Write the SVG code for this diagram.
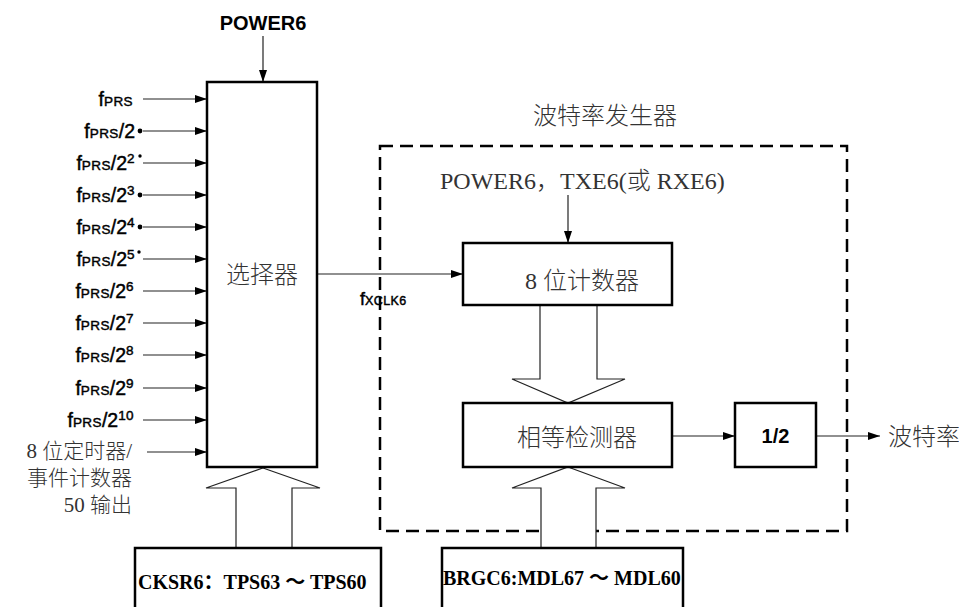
<svg xmlns="http://www.w3.org/2000/svg" width="959" height="607" viewBox="0 0 959 607">
<style>
.box{fill:#fff;stroke:#000;stroke-width:2.5}
.ln{fill:none;stroke:#222;stroke-width:1.2}
.hol{fill:#fff;stroke:#222;stroke-width:1.2}
.dash{fill:none;stroke:#000;stroke-width:2.5;stroke-dasharray:13 7}
.sf{font-family:"Liberation Sans",Arial,sans-serif;fill:#000}
.lab{font-family:"Liberation Sans",Arial,sans-serif;font-size:19.5px;fill:#000;stroke:#000;stroke-width:0.45}
.sm{font-size:13.5px;letter-spacing:0.4px}
.cn{font-family:"Liberation Serif","Noto Sans CJK SC",serif;fill:#333;font-weight:300}
.bs{font-family:"Liberation Serif","Noto Sans CJK SC",serif;font-weight:bold;font-size:20px;fill:#000}
</style>
<defs>
<marker id="ah" markerUnits="userSpaceOnUse" markerWidth="12" markerHeight="8" refX="12" refY="4" orient="auto">
<path d="M0,0 L12,4 L0,8 z" fill="#000"/>
</marker>
</defs>

<g id="baud-generator-frame">
<rect class="dash" x="380" y="146" width="467" height="385"/>
<text class="cn" x="533" y="124" font-size="24">波特率发生器</text>
</g>

<g id="connectors">
<line class="ln" x1="263" y1="36" x2="263" y2="82" marker-end="url(#ah)"/>
<line class="ln" x1="143" y1="99" x2="207" y2="99" marker-end="url(#ah)"/>
<line class="ln" x1="143" y1="131" x2="207" y2="131" marker-end="url(#ah)"/>
<line class="ln" x1="143" y1="163" x2="207" y2="163" marker-end="url(#ah)"/>
<line class="ln" x1="143" y1="195" x2="207" y2="195" marker-end="url(#ah)"/>
<line class="ln" x1="143" y1="227" x2="207" y2="227" marker-end="url(#ah)"/>
<line class="ln" x1="143" y1="259" x2="207" y2="259" marker-end="url(#ah)"/>
<line class="ln" x1="143" y1="291" x2="207" y2="291" marker-end="url(#ah)"/>
<line class="ln" x1="143" y1="323" x2="207" y2="323" marker-end="url(#ah)"/>
<line class="ln" x1="143" y1="355" x2="207" y2="355" marker-end="url(#ah)"/>
<line class="ln" x1="143" y1="388" x2="207" y2="388" marker-end="url(#ah)"/>
<line class="ln" x1="143" y1="420" x2="207" y2="420" marker-end="url(#ah)"/>
<line class="ln" x1="147" y1="452" x2="207" y2="452" marker-end="url(#ah)"/>
<line class="ln" x1="317" y1="274" x2="463" y2="274" marker-end="url(#ah)"/>
<line class="ln" x1="568" y1="195" x2="568" y2="243" marker-end="url(#ah)"/>
<line class="ln" x1="672" y1="436" x2="735" y2="436" marker-end="url(#ah)"/>
<line class="ln" x1="816" y1="436" x2="880" y2="436" marker-end="url(#ah)"/>
<polygon class="hol" points="263,468 320,488 292,488 292,548 236,548 236,488 206,488"/>
<polygon class="hol" points="540,305 597,305 597,379 625,379 568,403 512,379 540,379"/>
<polygon class="hol" points="568,467 625,488 596,488 596,548 541,548 541,488 512,488"/>
<circle cx="140" cy="131" r="2.4" fill="#000"/>
<circle cx="140" cy="156" r="1.7" fill="#000"/>
<circle cx="140" cy="195" r="2.4" fill="#000"/>
<circle cx="140" cy="227" r="2.4" fill="#000"/>
<circle cx="139" cy="252" r="1.7" fill="#000"/>
</g>

<g id="power6-label">
<text class="sf" x="263" y="30" font-size="20" font-weight="bold" text-anchor="middle">POWER6</text>
</g>

<g id="inputs">
<text class="lab" x="133" y="106" text-anchor="end">f<tspan class="sm">PRS</tspan></text>
<text class="lab" x="135" y="138" text-anchor="end">f<tspan class="sm">PRS</tspan>/2</text>
<text class="lab" x="135" y="170" text-anchor="end">f<tspan class="sm">PRS</tspan>/2<tspan class="sm" dy="-7">2</tspan></text>
<text class="lab" x="135" y="202" text-anchor="end">f<tspan class="sm">PRS</tspan>/2<tspan class="sm" dy="-7">3</tspan></text>
<text class="lab" x="135" y="234" text-anchor="end">f<tspan class="sm">PRS</tspan>/2<tspan class="sm" dy="-7">4</tspan></text>
<text class="lab" x="135" y="266" text-anchor="end">f<tspan class="sm">PRS</tspan>/2<tspan class="sm" dy="-7">5</tspan></text>
<text class="lab" x="134" y="298" text-anchor="end">f<tspan class="sm">PRS</tspan>/2<tspan class="sm" dy="-7">6</tspan></text>
<text class="lab" x="134" y="330" text-anchor="end">f<tspan class="sm">PRS</tspan>/2<tspan class="sm" dy="-7">7</tspan></text>
<text class="lab" x="134" y="362" text-anchor="end">f<tspan class="sm">PRS</tspan>/2<tspan class="sm" dy="-7">8</tspan></text>
<text class="lab" x="134" y="395" text-anchor="end">f<tspan class="sm">PRS</tspan>/2<tspan class="sm" dy="-7">9</tspan></text>
<text class="lab" x="134" y="427" text-anchor="end">f<tspan class="sm">PRS</tspan>/2<tspan class="sm" dy="-7">10</tspan></text>
<text class="cn" font-size="21" text-anchor="end"><tspan x="132" y="458">8 位定时器/</tspan><tspan x="132" y="485">事件计数器</tspan><tspan x="132" y="512">50 输出</tspan></text>
</g>

<g id="selector">
<rect class="box" x="207" y="82" width="110" height="385"/>
<text class="cn" x="226" y="283" font-size="24">选择器</text>
</g>

<g id="fxclk-label">
<text class="lab" x="360" y="305" style="font-size:18px">f<tspan class="sm" style="font-size:12.5px">XCLK6</tspan></text>
</g>

<g id="power6-txe6-label">
<text class="cn" x="440" y="189" font-size="24" font-weight="normal">POWER6，TXE6(或 RXE6)</text>
</g>

<g id="counter8">
<rect class="box" x="463" y="243" width="209" height="62"/>
<text class="cn" x="525" y="289" font-size="24">8 位计数器</text>
</g>

<g id="match-detector">
<rect class="box" x="463" y="403" width="209" height="64"/>
<text class="cn" x="517" y="446" font-size="24">相等检测器</text>
</g>

<g id="div2">
<rect class="box" x="735" y="403" width="81" height="64"/>
<text class="sf" x="775.5" y="443" font-size="20" font-weight="bold" text-anchor="middle">1/2</text>
</g>

<g id="baud-out">
<text class="cn" x="888" y="445" font-size="24">波特率</text>
</g>

<g id="cksr6">
<rect class="box" x="135" y="548" width="246" height="80"/>
<text class="bs" x="138" y="589">CKSR6：TPS63 ～ TPS60</text>
</g>

<g id="brgc6">
<rect class="box" x="442" y="548" width="241" height="80"/>
<text class="bs" x="443" y="585">BRGC6:MDL67 ～ MDL60</text>
</g>
</svg>
